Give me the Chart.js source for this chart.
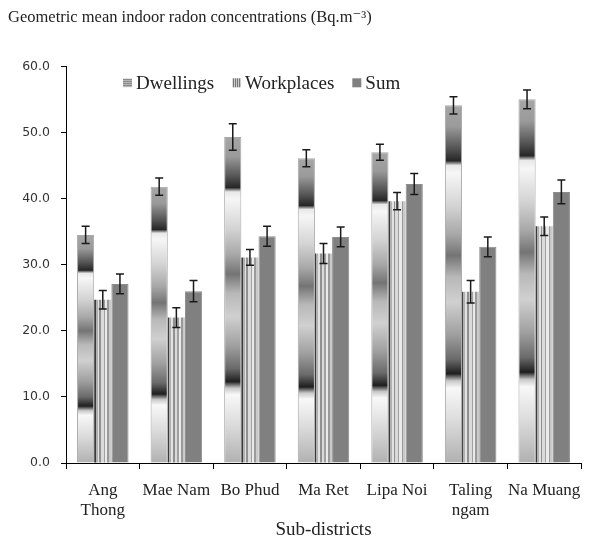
<!DOCTYPE html>
<html>
<head>
<meta charset="utf-8">
<title>Radon</title>
<script src="https://cdn.jsdelivr.net/npm/chart.js@4.4.1/dist/chart.umd.min.js"></script>
<style>
  body{ margin:0; background:#fff; }
  #box{ width:602px; height:541px; }
</style>
</head>
<body>
<div id="box"><canvas id="radonChart"></canvas></div>
<script>

/* DATA */
const districts = [["Ang","Thong"], "Mae Nam", "Bo Phud", "Ma Ret", "Lipa Noi", ["Taling","ngam"], "Na Muang"];
const seriesNames = ["Dwellings", "Workplaces", "Sum"];

const dwellings  = [34.5, 41.8, 49.3, 46.1, 47.0, 54.1, 55.0];
const workplaces = [24.7, 22.0, 31.1, 31.7, 39.6, 25.9, 35.8];
const sums       = [27.1, 26.0, 34.3, 34.2, 42.2, 32.7, 41.0];

const dwellErr = [1.3, 1.3, 2.0, 1.3, 1.2, 1.3, 1.4];
const workErr  = [1.4, 1.5, 1.2, 1.5, 1.3, 1.7, 1.4];
const sumErr   = [1.5, 1.6, 1.5, 1.5, 1.6, 1.5, 1.8];

const yTicks = [0, 10, 20, 30, 40, 50, 60];

const SERIF = "'Liberation Serif', 'DejaVu Serif', serif";
const CAT_PCT = 0.7;

/* FILLS */
const dwellStops = [
  [0, "#a6a6a6"], [0.06, "#9a9a9a"], [0.12, "#555"], [0.155, "#262626"],
  [0.168, "#e8e8e8"], [0.19, "#f6f6f6"], [0.28, "#d4d4d4"], [0.36, "#a8a8a8"],
  [0.42, "#747474"], [0.48, "#b8b8b8"], [0.55, "#d0d0d0"], [0.64, "#a0a0a0"],
  [0.71, "#6a6a6a"], [0.75, "#1e1e1e"], [0.77, "#c8c8c8"], [0.79, "#f8f8f8"],
  [0.88, "#dcdcdc"], [1, "#b0b0b0"]
];

const workStripes = [
  [0, 0.08, "#3a3a3a"], [0.08, 0.2, "#b0b0b0"], [0.2, 0.3, "#e2e2e2"],
  [0.3, 0.4, "#909090"], [0.4, 0.55, "#dadada"], [0.55, 0.63, "#a0a0a0"],
  [0.63, 0.76, "#eaeaea"], [0.76, 0.86, "#9a9a9a"], [0.86, 1, "#cacaca"]
];

function dwellFill(c){
  const chart = c.chart;
  if(c.type !== "data" || !chart.chartArea) return "#a8a8a8";
  const ys = chart.scales.y;
  const top = ys.getPixelForValue(c.raw);
  const bot = ys.getPixelForValue(0);
  const g = chart.ctx.createLinearGradient(0, top, 0, bot);
  dwellStops.forEach(s => g.addColorStop(s[0], s[1]));
  return g;
}

function workFill(c){
  const chart = c.chart;
  if(c.type !== "data" || !chart.chartArea) return "#c0c0c0";
  const xs = chart.scales.x;
  const cw = (xs.right - xs.left) / districts.length;
  const bw = cw * CAT_PCT / 3;
  const left = xs.getPixelForValue(c.dataIndex) - bw * 1.5 + bw * c.datasetIndex;
  const g = chart.ctx.createLinearGradient(left, 0, left + bw, 0);
  workStripes.forEach(s => {
    g.addColorStop(s[0], s[2]);
    g.addColorStop(s[1], s[2]);
  });
  return g;
}

/* ERROR BARS */
const errorBars = {
  id: "errorBars",
  afterDatasetsDraw(chart){
    const ctx = chart.ctx;
    const ys = chart.scales.y;
    const errs = [dwellErr, workErr, sumErr];
    ctx.save();
    ctx.strokeStyle = "#1a1a1a";
    ctx.lineWidth = 1.5;
    chart.data.datasets.forEach((ds, di) => {
      chart.getDatasetMeta(di).data.forEach((bar, i) => {
        const v = ds.data[i];
        const hi = ys.getPixelForValue(v + errs[di][i]);
        const lo = ys.getPixelForValue(v - errs[di][i]);
        ctx.beginPath();
        ctx.moveTo(bar.x, hi); ctx.lineTo(bar.x, lo);
        ctx.moveTo(bar.x - 4, hi); ctx.lineTo(bar.x + 4, hi);
        ctx.moveTo(bar.x - 4, lo); ctx.lineTo(bar.x + 4, lo);
        ctx.stroke();
      });
    });
    ctx.restore();
  }
};

/* LEGEND (inside plot) */
const innerLegend = {
  id: "innerLegend",
  afterDraw(chart){
    const ctx = chart.ctx;
    const area = chart.chartArea;
    let x = area.left + 57;
    const cy = area.top + 17;
    ctx.save();
    ctx.font = Chart.helpers.toFont({ family: SERIF, size: 19 }).string;
    ctx.textAlign = "left";
    ctx.textBaseline = "middle";
    seriesNames.forEach((name, k) => {
      const bx = x, by = cy - 5, s = 9;
      if(k === 0){
        ctx.fillStyle = "#d8d8d8"; ctx.fillRect(bx, by, s, s);
        ctx.fillStyle = "#6a6a6a";
        for(let j = 1; j < s; j += 2) ctx.fillRect(bx, by + j, s, 1);
      } else if(k === 1){
        ctx.fillStyle = "#d8d8d8"; ctx.fillRect(bx, by, s, s);
        ctx.fillStyle = "#6a6a6a";
        for(let j = 1; j < s; j += 2) ctx.fillRect(bx + j, by, 1, s);
      } else {
        ctx.fillStyle = "#808080"; ctx.fillRect(bx, by, s, s);
      }
      ctx.fillStyle = "#222";
      ctx.fillText(name, bx + s + 4, cy + 1);
      x = bx + s + 4 + ctx.measureText(name).width + 18;
    });
    ctx.restore();
  }
};

/* CHART */
new Chart(document.getElementById("radonChart"), {
  type: "bar",
  data: {
    labels: districts,
    datasets: [
      { label: seriesNames[0], data: dwellings,  backgroundColor: dwellFill, borderColor: "#a8a8a8", borderWidth: 1 },
      { label: seriesNames[1], data: workplaces, backgroundColor: workFill,  borderColor: "#b0b0b0", borderWidth: 0 },
      { label: seriesNames[2], data: sums,       backgroundColor: "#808080", borderColor: "#8c8c8c", borderWidth: 1 }
    ]
  },
  options: {
    responsive: true,
    maintainAspectRatio: false,
    animation: false,
    datasets: { bar: { categoryPercentage: CAT_PCT, barPercentage: 1 } },
    layout: { padding: { left: 8, right: 21, top: 0, bottom: 0 } },
    plugins: {
      legend: { display: false },
      tooltip: { enabled: false },
      title: {
        display: true,
        text: "Geometric mean indoor radon concentrations (Bq.m\u207B\u00B3)",
        align: "start",
        color: "#222",
        font: { family: SERIF, size: 16.5, weight: "normal" },
        padding: { top: 8, bottom: 38.5 }
      }
    },
    scales: {
      y: {
        min: 0,
        max: 60,
        afterBuildTicks: s => { s.ticks = yTicks.map(v => ({ value: v })); },
        afterFit: s => { s.width = 58; },
        border: { color: "#000", width: 1 },
        grid: { drawOnChartArea: false, tickLength: 5, color: "#000" },
        ticks: {
          padding: 11,
          color: "#333",
          font: { family: "'DejaVu Sans', sans-serif", size: 12.5 },
          callback: v => Number(v).toFixed(1)
        }
      },
      x: {
        border: { color: "#000", width: 1 },
        grid: { drawOnChartArea: false, offset: true, tickLength: 6, color: "#000" },
        ticks: {
          padding: 12,
          maxRotation: 0,
          autoSkip: false,
          color: "#222",
          font: { family: SERIF, size: 17, lineHeight: 1.15 }
        },
        title: {
          display: true,
          text: "Sub-districts",
          color: "#222",
          font: { family: SERIF, size: 19 },
          padding: { top: -14, bottom: 0 }
        }
      }
    }
  },
  plugins: [errorBars, innerLegend]
});
</script>
</body>
</html>
